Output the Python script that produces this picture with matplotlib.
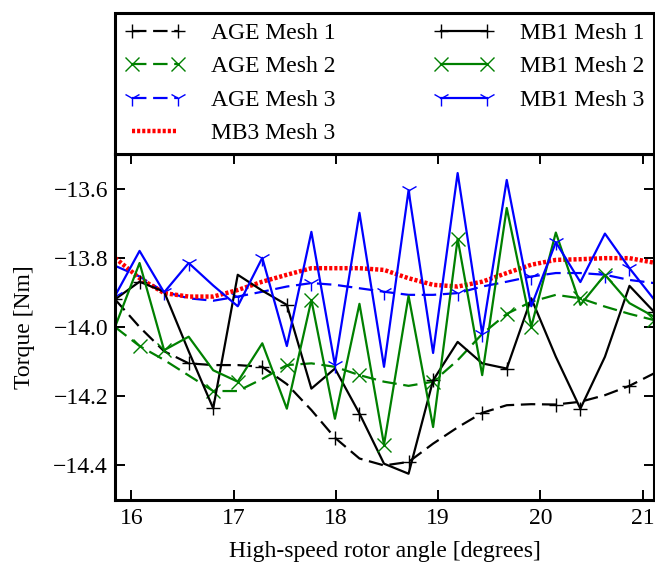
import matplotlib
matplotlib.use("Agg")
import matplotlib.pyplot as plt

plt.rcParams['font.family'] = ['Liberation Serif', 'DejaVu Serif']
plt.rcParams['mathtext.fontset'] = 'stix'
plt.rcParams['lines.scale_dashes'] = True

# rotor angle positions [deg]
angle = [15.84, 16.08, 16.32, 16.56, 16.80, 17.04, 17.28, 17.52, 17.76, 17.99, 18.23, 18.47,
         18.71, 18.95, 19.19, 19.43, 19.67, 19.91, 20.15, 20.39, 20.63, 20.87, 21.11]

# torque [Nm] per method / mesh
age_mesh1 = [-13.92, -14.00, -14.07, -14.105, -14.11, -14.11, -14.115, -14.165, -14.24, -14.32, -14.38, -14.40,
             -14.39, -14.337, -14.29, -14.248, -14.226, -14.223, -14.224, -14.216, -14.197, -14.17, -14.134]
age_mesh2 = [-14.00, -14.055, -14.095, -14.14, -14.185, -14.185, -14.15, -14.11, -14.105, -14.115, -14.139, -14.158,
             -14.17, -14.158, -14.096, -14.02, -13.962, -13.927, -13.907, -13.917, -13.941, -13.962, -13.98]
age_mesh3 = [-13.823, -13.854, -13.898, -13.917, -13.924, -13.912, -13.898, -13.883, -13.873, -13.878, -13.888, -13.898,
             -13.907, -13.907, -13.902, -13.883, -13.869, -13.854, -13.844, -13.844, -13.849, -13.864, -13.873]
mb3_mesh3 = [-13.80, -13.859, -13.902, -13.912, -13.912, -13.893, -13.869, -13.849, -13.83, -13.83, -13.83, -13.835,
             -13.859, -13.878, -13.883, -13.869, -13.844, -13.82, -13.806, -13.804, -13.801, -13.801, -13.814]
mb1_mesh1 = [-13.92, -13.869, -13.898, -14.07, -14.235, -13.849, -13.895, -13.936, -14.178, -14.12, -14.25, -14.395,
             -14.424, -14.154, -14.043, -14.105, -14.12, -13.917, -14.086, -14.236, -14.086, -13.881, -13.956]
mb1_mesh2 = [-14.00, -13.815, -14.067, -14.028, -14.125, -14.158, -14.047, -14.236, -13.922, -14.265, -13.933, -14.34,
             -13.91, -14.289, -13.745, -14.139, -13.656, -13.999, -13.727, -13.936, -13.849, -13.931, -13.97]
mb1_mesh3 = [-13.91, -13.78, -13.90, -13.815, -13.88, -13.94, -13.80, -14.055, -13.725, -14.11, -13.67, -14.115,
             -13.605, -14.075, -13.555, -14.02, -13.575, -13.94, -13.755, -13.87, -13.73, -13.83, -13.92]

green = (0, 0.5, 0)
fs = 17

fig = plt.figure(figsize=(6.55, 5.65), dpi=100)
ax = fig.add_axes([0.1756, 0.115, 0.8229, 0.6124])

lw = 1.6
ms = 10
dash = (6.5, 3.0)
ax.plot(angle, age_mesh1, color='k', lw=lw, dashes=dash, marker='+', ms=ms, mew=1, markevery=(0, 3), label='AGE Mesh 1')
ax.plot(angle, age_mesh2, color=green, lw=lw, dashes=dash, marker='x', ms=ms, mew=1, markevery=(1, 3), label='AGE Mesh 2')
ax.plot(angle, age_mesh3, color='b', lw=lw, dashes=dash, marker='1', ms=ms + 2, mew=1, markevery=(2, 3), label='AGE Mesh 3')
ax.plot(angle, mb3_mesh3, color='r', lw=3.2, dashes=(0.7, 0.45), label='MB3 Mesh 3')
ax.plot(angle, mb1_mesh1, '-', color='k', lw=lw, marker='+', ms=ms, mew=1, markevery=(1, 3), label='MB1 Mesh 1')
ax.plot(angle, mb1_mesh2, '-', color=green, lw=lw, marker='x', ms=ms, mew=1, markevery=(2, 3), label='MB1 Mesh 2')
ax.plot(angle, mb1_mesh3, '-', color='b', lw=lw, marker='1', ms=ms + 2, mew=1, markevery=(0, 3), label='MB1 Mesh 3')

ax.set_xlim(angle[0], angle[-1])
ax.set_ylim(-14.5, -13.5)
ax.set_xticks([16, 17, 18, 19, 20, 21])
ax.set_yticks([-14.4, -14.2, -14.0, -13.8, -13.6])
ax.tick_params(direction='in', top=True, right=True, length=7, width=1.4, labelsize=fs)
ax.tick_params(axis='x', pad=5.5)
ax.tick_params(axis='y', pad=5)
for sp in ax.spines.values():
    sp.set_linewidth(2.2)

ax.set_xlabel('High-speed rotor angle [degrees]', fontsize=fs, labelpad=9)
ax.set_ylabel('Torque [Nm]', fontsize=fs, labelpad=13)

leg = ax.legend(loc='lower left', bbox_to_anchor=(0, 1, 1, 0.41), mode='expand', ncol=2,
                fontsize=fs, numpoints=2, handlelength=2.55, handletextpad=1.1,
                labelspacing=0.5, borderpad=0.42, borderaxespad=0, fancybox=False, framealpha=1)
leg.get_frame().set_edgecolor('k')
leg.get_frame().set_linewidth(2.2)

fig.savefig('out.png', dpi=100, facecolor='white')
